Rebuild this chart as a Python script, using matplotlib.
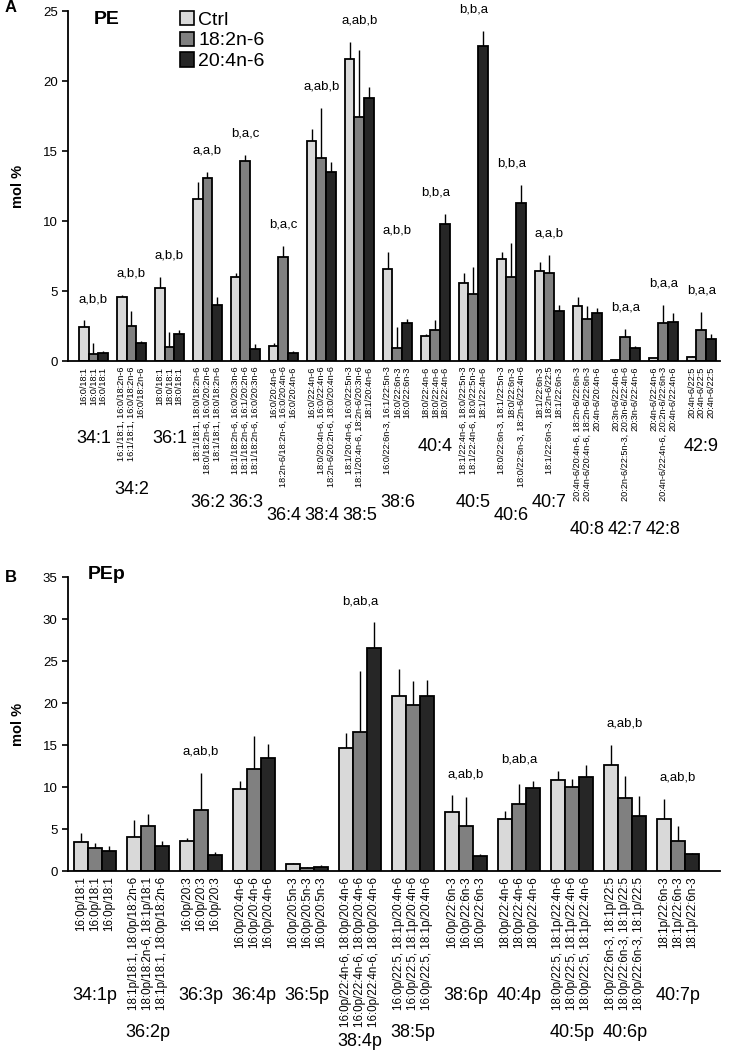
import matplotlib
matplotlib.use("Agg")
import matplotlib.pyplot as plt
from matplotlib.patches import Patch
import numpy as np

plt.rcParams['font.family'] = ['Liberation Sans', 'DejaVu Sans']

series = ["Ctrl", "18:2n-6", "20:4n-6"]
colors = ["#d9d9d9", "#808080", "#262626"]

# ---- panel A: PE ----
pe_groups = ["34:1", "34:2", "36:1", "36:2", "36:3", "36:4", "38:4", "38:5", "38:6",
             "40:4", "40:5", "40:6", "40:7", "40:8", "42:7", "42:8", "42:9"]
pe_ctrl = [2.4, 4.6, 5.2, 11.6, 6.0, 1.1, 15.7, 21.6, 6.6, 1.8, 5.6, 7.3, 6.4, 3.9, 0.05, 0.2, 0.3]
pe_ctrl_sd = [0.5, 0.1, 0.8, 1.2, 0.3, 0.2, 0.9, 1.2, 1.2, 0.1, 0.7, 0.5, 0.7, 0.7, 0.05, 0.05, 0.05]
pe_la = [0.5, 2.5, 1.0, 13.1, 14.3, 7.4, 14.5, 17.4, 0.9, 2.2, 4.8, 6.0, 6.3, 3.0, 1.7, 2.7, 2.2]
pe_la_sd = [0.8, 1.1, 1.1, 0.4, 0.4, 0.8, 3.6, 4.8, 1.5, 0.7, 1.9, 2.4, 1.3, 0.9, 0.6, 1.3, 1.3]
pe_aa = [0.6, 1.3, 1.9, 4.0, 0.85, 0.6, 13.5, 18.8, 2.7, 9.8, 22.5, 11.3, 3.6, 3.4, 0.95, 2.8, 1.6]
pe_aa_sd = [0.1, 0.1, 0.3, 0.6, 0.4, 0.1, 0.7, 0.8, 0.3, 0.7, 1.1, 1.3, 0.4, 0.4, 0.15, 0.6, 0.3]
pe_letters = ["a,b,b", "a,b,b", "a,b,b", "a,a,b", "b,a,c", "b,a,c", "a,ab,b", "a,ab,b", "a,b,b",
              "b,b,a", "b,b,a", "b,b,a", "a,a,b", "", "b,a,a", "b,a,a", "b,a,a"]
pe_species = [
    ["16:0/18:1", "16:0/18:1", "16:0/18:1"],
    ["16:1/18:1, 16:0/18:2n-6", "16:1/18:1, 16:0/18:2n-6", "16:0/18:2n-6"],
    ["18:0/18:1", "18:0/18:1", "18:0/18:1"],
    ["18:1/18:1, 18:0/18:2n-6", "18:0/18:2n-6, 16:0/20:2n-6", "18:1/18:1, 18:0/18:2n-6"],
    ["18:1/18:2n-6, 16:0/20:3n-6", "18:1/18:2n-6, 16:1/20:2n-6", "18:1/18:2n-6, 16:0/20:3n-6"],
    ["16:0/20:4n-6", "18:2n-6/18:2n-6, 16:0/20:4n-6", "16:0/20:4n-6"],
    ["16:0/22:4n-6", "18:0/20:4n-6, 16:0/22:4n-6", "18:2n-6/20:2n-6, 18:0/20:4n-6"],
    ["18:1/20:4n-6, 16:0/22:5n-3", "18:1/20:4n-6, 18:2n-6/20:3n-6", "18:1/20:4n-6"],
    ["16:0/22:6n-3, 16:1/22:5n-3", "16:0/22:6n-3", "16:0/22:6n-3"],
    ["18:0/22:4n-6", "18:0/22:4n-6", "18:0/22:4n-6"],
    ["18:1/22:4n-6, 18:0/22:5n-3", "18:1/22:4n-6, 18:0/22:5n-3", "18:1/22:4n-6"],
    ["18:0/22:6n-3, 18:1/22:5n-3", "18:0/22:6n-3", "18:0/22:6n-3, 18:2n-6/22:4n-6"],
    ["18:1/22:6n-3", "18:1/22:6n-3, 18:2n-6/22:5", "18:1/22:6n-3"],
    ["20:4n-6/20:4n-6, 18:2n-6/22:6n-3", "20:4n-6/20:4n-6, 18:2n-6/22:6n-3", "20:4n-6/20:4n-6"],
    ["20:3n-6/22:4n-6", "20:2n-6/22:5n-3, 20:3n-6/22:4n-6", "20:3n-6/22:4n-6"],
    ["20:4n-6/22:4n-6", "20:4n-6/22:4n-6, 20:2n-6/22:6n-3", "20:4n-6/22:4n-6"],
    ["20:4n-6/22:5", "20:4n-6/22:5", "20:4n-6/22:5"],
]

# ---- panel B: PEp ----
pep_groups = ["34:1p", "36:2p", "36:3p", "36:4p", "36:5p", "38:4p", "38:5p", "38:6p",
              "40:4p", "40:5p", "40:6p", "40:7p"]
pep_ctrl = [3.4, 4.1, 3.6, 9.8, 0.8, 14.6, 20.8, 7.0, 6.2, 10.8, 12.6, 6.2]
pep_ctrl_sd = [1.1, 2.0, 0.3, 0.9, 0.2, 1.8, 3.2, 2.0, 0.9, 1.1, 2.4, 2.4]
pep_la = [2.7, 5.3, 7.3, 12.1, 0.3, 16.6, 19.8, 5.4, 8.0, 10.0, 8.7, 3.6]
pep_la_sd = [0.6, 1.5, 4.4, 4.0, 0.2, 7.2, 2.8, 3.4, 2.4, 1.0, 2.6, 1.7]
pep_aa = [2.4, 3.0, 1.9, 13.4, 0.45, 26.6, 20.8, 1.8, 9.9, 11.2, 6.5, 2.0]
pep_aa_sd = [0.6, 0.6, 0.4, 1.7, 0.25, 3.0, 1.9, 0.2, 0.8, 1.4, 2.4, 0.1]
pep_letters = ["", "", "a,ab,b", "", "", "b,ab,a", "", "a,ab,b", "b,ab,a", "", "a,ab,b", "a,ab,b"]
pep_species = [
    ["16:0p/18:1"] * 3,
    ["18:1p/18:1, 18:0p/18:2n-6", "18:0p/18:2n-6, 18:1p/18:1", "18:1p/18:1, 18:0p/18:2n-6"],
    ["16:0p/20:3"] * 3,
    ["16:0p/20:4n-6"] * 3,
    ["16:0p/20:5n-3"] * 3,
    ["16:0p/22:4n-6, 18:0p/20:4n-6"] * 3,
    ["16:0p/22:5, 18:1p/20:4n-6"] * 3,
    ["16:0p/22:6n-3"] * 3,
    ["18:0p/22:4n-6"] * 3,
    ["18:0p/22:5, 18:1p/22:4n-6"] * 3,
    ["18:0p/22:6n-3, 18:1p/22:5"] * 3,
    ["18:1p/22:6n-3"] * 3,
]

W, H = 730, 1060
fig = plt.figure(figsize=(W / 100, H / 100), dpi=100)
axA = fig.add_axes([68 / W, 1 - 361 / H, 652 / W, 350 / H])
axB = fig.add_axes([68 / W, 1 - 871 / H, 652 / W, 294 / H])

bw = 0.26


def draw_panel(ax, groups, vals, sds, letters, species, ymax, xlim, lab_size):
    x = np.arange(len(groups))
    ticks, labs = [], []
    tops = np.zeros(len(groups))
    for i, (v, s, c) in enumerate(zip(vals, sds, colors)):
        xs = x + (i - 1) * bw
        ax.bar(xs, v, bw, color=c, edgecolor="black", linewidth=1.3, zorder=2)
        ax.vlines(xs, v, np.array(v) + np.array(s), color="black", linewidth=1, zorder=1)
        tops = np.maximum(tops, np.array(v) + np.array(s))
        ticks.extend(xs)
        labs.extend([species[g][i] for g in range(len(groups))])
    # order tick labels by position so that labels of group g are 3g..3g+2
    order = np.argsort(ticks)
    ax.set_xticks(np.array(ticks)[order])
    ax.set_xticklabels([labs[k] for k in order], rotation=90, fontsize=lab_size)
    ax.tick_params(axis="x", length=0, pad=4)
    for g, t in enumerate(letters):
        if t:
            ax.annotate(t, (x[g], tops[g]), xytext=(0, 11), textcoords="offset points",
                        ha="center", va="bottom", fontsize=9.5)
    ax.set_ylim(0, ymax)
    ax.set_xlim(*xlim)
    ax.set_yticks(np.arange(0, ymax + 1, 5))
    ax.tick_params(axis="y", labelsize=9.5, direction="out", length=4, width=1.2)
    for sp in ["top", "right"]:
        ax.spines[sp].set_visible(False)
    for sp in ["left", "bottom"]:
        ax.spines[sp].set_linewidth(1.3)
    ax.set_ylabel("mol %", fontsize=10.5, fontweight="bold", labelpad=13)


draw_panel(axA, pe_groups, [pe_ctrl, pe_la, pe_aa], [pe_ctrl_sd, pe_la_sd, pe_aa_sd],
           pe_letters, pe_species, 25, (-0.67, 16.49), 6.6)
draw_panel(axB, pep_groups, [pep_ctrl, pep_la, pep_aa], [pep_ctrl_sd, pep_la_sd, pep_aa_sd],
           pep_letters, pep_species, 35, (-0.51, 11.79), 8.4)

axA.text(0.04, 0.975, "PE", transform=axA.transAxes, fontsize=14, fontweight="bold", va="center")
axB.text(0.03, 1.01, "PEp", transform=axB.transAxes, fontsize=14, fontweight="bold", va="center")
fig.text(5 / W, 1 - 8 / H, "A", fontsize=12, fontweight="bold", va="center")
fig.text(5 / W, 1 - 578 / H, "B", fontsize=12, fontweight="bold", va="center")

handles = [Patch(facecolor=c, edgecolor="black", linewidth=1.2) for c in colors]
axA.legend(handles, series, loc="upper left", bbox_to_anchor=(170 / W, 1 - 1 / H),
           bbox_transform=fig.transFigure, frameon=False, fontsize=14,
           handlelength=0.75, handleheight=0.75, handletextpad=0.2, labelspacing=0.15,
           borderpad=0)

# group labels placed under each group's longest species label
fig.canvas.draw()
renderer = fig.canvas.get_renderer()


def group_labels(ax, groups, min_depth, pad, floor):
    labels = ax.get_xticklabels()
    x_axis_px = ax.transAxes.transform((0, 0))[1]
    for g, name in enumerate(groups):
        ext = [labels[3 * g + i].get_window_extent(renderer) for i in range(3)]
        low = min(e.y0 for e in ext)
        xc = np.mean([(e.x0 + e.x1) / 2 for e in ext])
        y = max(min(low - pad, x_axis_px - min_depth), floor)
        fig.text(xc / W, y / H, name, ha="center", va="top", fontsize=13)


group_labels(axA, pe_groups, 69, 20, 0)
group_labels(axB, pep_groups, 116, 14, 27)

fig.savefig("out.png", dpi=100)
